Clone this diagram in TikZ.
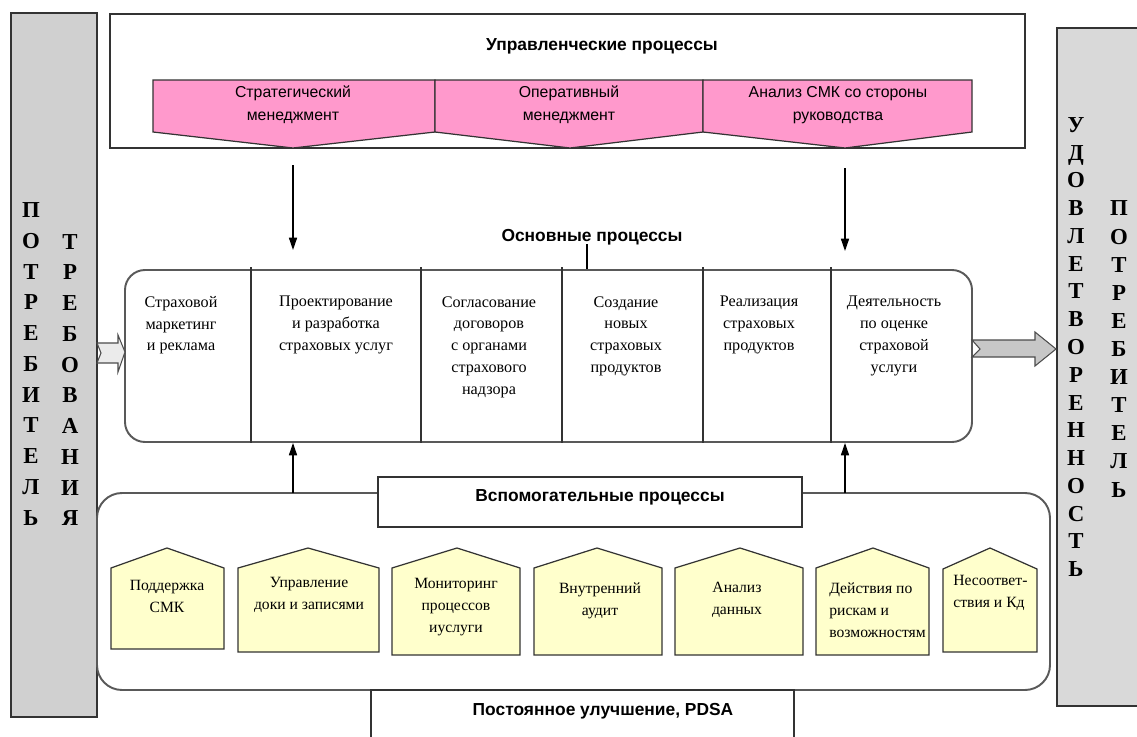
\documentclass[tikz,border=0pt]{standalone}
\usepackage{fontspec}
\setmainfont{Liberation Serif}
\setsansfont{Liberation Sans}
\usetikzlibrary{arrows.meta,fit,calc}
\definecolor{pinkfill}{HTML}{FF99CC}
\definecolor{yelfill}{HTML}{FFFFCC}
\definecolor{greyL}{HTML}{D0D0D0}
\definecolor{greyR}{HTML}{D9D9D9}
\definecolor{edge}{HTML}{333333}
\begin{document}
\begin{tikzpicture}[x=0.02cm,y=-0.02cm,
  outline/.style={draw=edge, line width=0.7pt},
  plainbox/.style={outline, fill=white, inner sep=0pt},
  sidebar/.style={outline, inner sep=0pt},
  roundbox/.style={draw=black!65, line width=1.1pt, fill=white, inner sep=0pt},
  chev/.style={outline, fill=pinkfill},
  house/.style={outline, fill=yelfill},
  arr/.style={draw=black, line width=0.7pt, -{Triangle[length=7pt,width=4.6pt]}},
  title/.style={font=\sffamily\bfseries\fontsize{9.9}{12}\selectfont, inner sep=0pt},
  pinktxt/.style={font=\sffamily\fontsize{9}{13}\selectfont, align=center, inner sep=0pt},
  coltxt/.style={font=\fontsize{9.2}{12.4}\selectfont, align=center, inner sep=0pt, anchor=north},
  housetxt/.style={font=\fontsize{8.9}{12.6}\selectfont, align=center, inner sep=0pt, anchor=north},
  housetxtl/.style={font=\fontsize{8.9}{12.6}\selectfont, align=left, inner sep=0pt, anchor=north west},
  vletL/.style={font=\bfseries\fontsize{13}{17.5}\selectfont, align=center, inner sep=0pt},
  vletR/.style={font=\bfseries\fontsize{13}{15.8}\selectfont, align=center, inner sep=0pt},
  blockarr/.style={draw=black!70, line width=0.6pt}
]
\useasboundingbox (0,0) rectangle (1137,737);

% side bars
\node[sidebar, fill=greyL, fit={(11,13) (97,717)}] (left) {};
\node[sidebar, fill=greyR, fit={(1057,28) (1140,706)}] (right) {};
\node[vletL] (lc1) at (31,364) {П\\О\\Т\\Р\\Е\\Б\\И\\Т\\Е\\Л\\Ь};
\node[vletL] (lc2) at (70,380) {Т\\Р\\Е\\Б\\О\\В\\А\\Н\\И\\Я};
\node[vletR] (rc1) at (1076,347) {У\\Д\\О\\В\\Л\\Е\\Т\\В\\О\\Р\\Е\\Н\\Н\\О\\С\\Т\\Ь};
\node[font=\bfseries\fontsize{13}{16}\selectfont, align=center, inner sep=0pt] (rc2) at (1119,349) {П\\О\\Т\\Р\\Е\\Б\\И\\Т\\Е\\Л\\Ь};

% management box
\node[plainbox, fit={(110,14) (1025,148)}] (mgmt) {};
\node[title] (mgmtT) at (602,46) {Управленческие процессы};
\draw[chev] (153,80) -- (435,80) -- (435,132) -- (293,148) -- (153,132) -- cycle;
\draw[chev] (435,80) -- (703,80) -- (703,132) -- (570,148) -- (435,132) -- cycle;
\draw[chev] (703,80) -- (972,80) -- (972,132) -- (845,148) -- (703,132) -- cycle;
\node[pinktxt] (ch1) at (293,105) {Стратегический\\менеджмент};
\node[pinktxt] (ch2) at (569,105) {Оперативный\\менеджмент};
\node[pinktxt] (ch3) at (838,105) {Анализ СМК со стороны\\руководства};

% arrows down
\coordinate (d1s) at (293,165);
\coordinate (d1e) at (293,250);
\coordinate (d2s) at (845,168);
\coordinate (d2e) at (845,251);
\draw[arr] (d1s) -- (d1e);
\draw[arr] (d2s) -- (d2e);

% main processes
\node[title] (mainT) at (592,237) {Основные процессы};
\node[roundbox, rounded corners=20*0.02cm, fit={(125,270) (972,442)}] (main) {};
\coordinate (tick) at (587,244);
\draw[draw=black, line width=1.2pt] (tick) -- (tick |- main.north);
\foreach \xx/\nm in {251/v1,421/v2,562/v3,703/v4,831/v5}{
  \coordinate (\nm t) at (\xx,267);
  \draw[outline] (\nm t) -- (\nm t |- main.south);
}
\node[coltxt] (c1) at (181,296) {Страховой\\маркетинг\\и реклама};
\node[coltxt] (c2) at (336,296) {Проектирование\\и разработка\\страховых услуг};
\node[coltxt] (c3) at (489,296) {Согласование\\договоров\\с органами\\страхового\\надзора};
\node[coltxt] (c4) at (626,296) {Создание\\новых\\страховых\\продуктов};
\node[coltxt] (c5) at (759,296) {Реализация\\страховых\\продуктов};
\node[coltxt] (c6) at (894,296) {Деятельность\\по оценке\\страховой\\услуги};

% block arrows
\fill[black!8] (97,343) -- (118,343) -- (118,335) -- (125,352) -- (118,372) -- (118,363) -- (97,363) -- (101,353) -- cycle;
\draw[blockarr] (97,343) -- (118,343) -- (118,335) -- (125,352) -- (118,372) -- (118,363) -- (97,363) -- (101,353) -- cycle;
\draw[blockarr, fill=black!22] (972,340) -- (1035,340) -- (1035,332) -- (1056,349) -- (1035,366) -- (1035,357) -- (972,357) -- (980,349) -- cycle;

% support box
\node[roundbox, rounded corners=25*0.02cm, fit={(97,493) (1050,690)}] (supp) {};
\coordinate (u1s) at (293,493);
\coordinate (u2s) at (845,493);
\draw[arr] (u1s) -- (u1s |- main.south);
\draw[arr] (u2s) -- (u2s |- main.south);
\node[plainbox, fit={(378,477) (802,527)}] (suppTbox) {};
\node[title] (suppT) at (600,497) {Вспомогательные процессы};

% houses
\draw[house] (111,649) -- (111,568) -- (167,548) -- (224,568) -- (224,649) -- cycle;
\draw[house] (238,652) -- (238,568) -- (308,548) -- (379,568) -- (379,652) -- cycle;
\draw[house] (392,655) -- (392,568) -- (457,548) -- (520,568) -- (520,655) -- cycle;
\draw[house] (534,655) -- (534,568) -- (597,548) -- (662,568) -- (662,655) -- cycle;
\draw[house] (675,655) -- (675,568) -- (740,548) -- (803,568) -- (803,655) -- cycle;
\draw[house] (816,655) -- (816,568) -- (873,548) -- (929,568) -- (929,655) -- cycle;
\draw[house] (943,652) -- (943,569) -- (990,548) -- (1037,569) -- (1037,652) -- cycle;
\node[housetxt] (h1) at (167,580) {Поддержка\\СМК};
\node[housetxt] (h2) at (309,577) {Управление\\доки и записями};
\node[housetxt] (h3) at (456,578) {Мониторинг\\процессов\\иуслуги};
\node[housetxt] (h4) at (600,582) {Внутренний\\аудит};
\node[housetxt] (h5) at (737,582) {Анализ\\данных};
\node[housetxtl] (h6) at (829,582) {Действия по\\рискам и\\возможностям};
\node[housetxtl] (h7) at (953,575) {Несоответ-\\ствия и Кд};

% improvement box
\draw[outline, fill=white] (371,745) -- (371,690) -- (794,690) -- (794,745);
\node[title] (imp) at (603,711) {Постоянное улучшение, PDSA};
\end{tikzpicture}
\end{document}
